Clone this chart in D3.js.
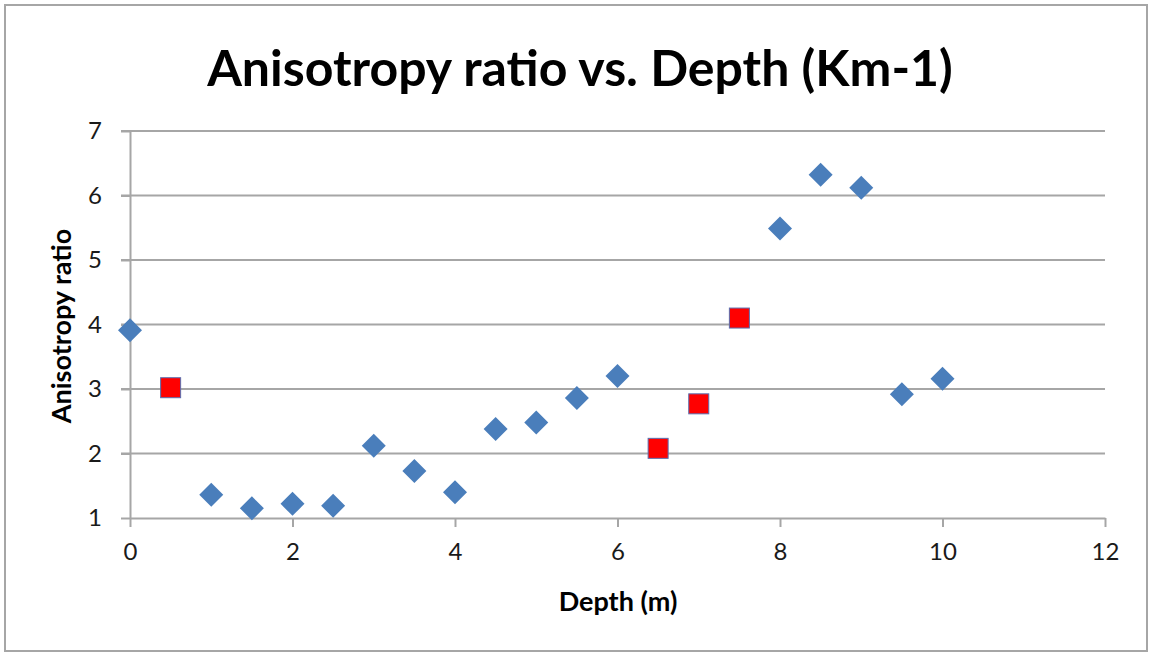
<!DOCTYPE html>
<html>
<head>
<meta charset="utf-8">
<script src="https://cdn.jsdelivr.net/npm/d3@7"></script>
<style>
  body { margin: 0; background: #fff; }
  svg { display: block; font-family: Lato, "Open Sans", sans-serif; }
</style>
</head>
<body>
<div class="main"></div>
<script>
// Données
const depthBlue = [0, 1, 1.5, 2, 2.5, 3, 3.5, 4, 4.5, 5, 5.5, 6, 8, 8.5, 9, 9.5, 10];
const ratioBlue = [3.91, 1.36, 1.15, 1.22, 1.19, 2.12, 1.73, 1.4, 2.38, 2.48, 2.86, 3.2, 5.49, 6.32, 6.12, 2.92, 3.16];
const depthRed = [0.5, 6.5, 7, 7.5];
const ratioRed = [3.02, 2.08, 2.77, 4.1];
const xTicks = [0, 2, 4, 6, 8, 10, 12];
const yTicks = [1, 2, 3, 4, 5, 6, 7];

const W = 1151, H = 654;
const margin = { top: 131, right: 46, bottom: 136, left: 130 };
const width = W - margin.left - margin.right;
const height = H - margin.top - margin.bottom;

const svg = d3.select('.main')
  .append('svg')
    .attr('width', W)
    .attr('height', H);

// Cadre extérieur
svg.append('rect')
  .attr('x', 5).attr('y', 5)
  .attr('width', W - 9).attr('height', H - 8)
  .attr('fill', 'none')
  .attr('stroke', '#a6a6a6')
  .attr('stroke-width', 2);

const g = svg.append('g')
  .attr('transform', 'translate(' + margin.left + ',' + margin.top + ')');

const x = d3.scaleLinear().domain([0, 12]).range([0, width]);
const y = d3.scaleLinear().domain([1, 7]).range([height, 0]);

// Lignes de grille horizontales
g.append('g')
  .selectAll('line')
  .data(yTicks.slice(1))
  .join('line')
    .attr('x1', -9).attr('x2', width)
    .attr('y1', d => y(d)).attr('y2', d => y(d))
    .attr('stroke', '#a6a6a6')
    .attr('stroke-width', 2);

// Axe x
const xAxis = g.append('g')
  .attr('transform', 'translate(0,' + height + ')')
  .call(d3.axisBottom(x).tickValues(xTicks).tickFormat(d3.format('d'))
    .tickSize(9).tickPadding(16).tickSizeOuter(0));

// Axe y
const yAxis = g.append('g')
  .call(d3.axisLeft(y).tickValues(yTicks).tickFormat(d3.format('d'))
    .tickSize(9).tickPadding(19).tickSizeOuter(0));

[xAxis, yAxis].forEach(a => {
  a.select('.domain').attr('stroke', '#a6a6a6').attr('stroke-width', 2);
  a.selectAll('.tick line').attr('stroke', '#a6a6a6').attr('stroke-width', 2);
  a.selectAll('.tick text')
    .attr('fill', '#1a1a1a')
    .style('font-size', '24px')
    .style('font-family', 'Lato, "Open Sans", sans-serif');
});

// Losanges bleus
g.append('g')
  .selectAll('path')
  .data(depthBlue.map((d, i) => [d, ratioBlue[i]]))
  .join('path')
    .attr('transform', d => 'translate(' + x(d[0]) + ',' + y(d[1]) + ')')
    .attr('d', 'M0,-12L12,0L0,12L-12,0Z')
    .attr('fill', '#4a7ebb');

// Carrés rouges
g.append('g')
  .selectAll('rect')
  .data(depthRed.map((d, i) => [d, ratioRed[i]]))
  .join('rect')
    .attr('x', d => x(d[0]) - 10)
    .attr('y', d => y(d[1]) - 10)
    .attr('width', 20).attr('height', 20)
    .attr('fill', '#ff0000')
    .attr('stroke', '#5a6fb0')
    .attr('stroke-width', 1);

// Titre
svg.append('text')
  .attr('x', 580).attr('y', 86)
  .attr('text-anchor', 'middle')
  .style('font-size', '50px')
  .style('font-weight', 'bold')
  .text('Anisotropy ratio vs. Depth (Km-1)');

// Titre de l'axe x
svg.append('text')
  .attr('x', 618).attr('y', 611)
  .attr('text-anchor', 'middle')
  .style('font-size', '27px')
  .style('font-weight', 'bold')
  .text('Depth (m)');

// Titre de l'axe y
svg.append('text')
  .attr('transform', 'translate(71,326) rotate(-90)')
  .attr('text-anchor', 'middle')
  .style('font-size', '27px')
  .style('font-weight', 'bold')
  .text('Anisotropy ratio');
</script>
</body>
</html>
